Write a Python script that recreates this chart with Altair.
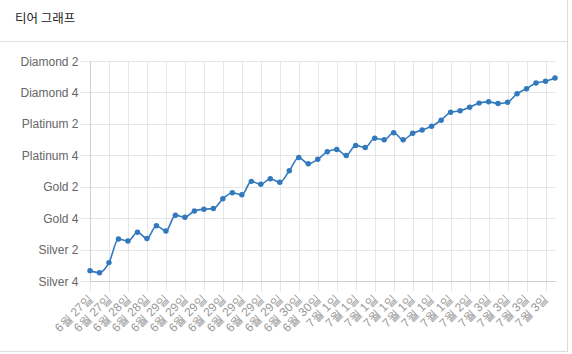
import altair as alt
import pandas as pd

# x categories (one per game snapshot)
dates = [
    "6월 27일", "6월 27일", "6월 27일", "6월 28일", "6월 28일", "6월 28일",
    "6월 28일", "6월 29일", "6월 29일", "6월 29일", "6월 29일", "6월 29일",
    "6월 29일", "6월 29일", "6월 29일", "6월 29일", "6월 29일", "6월 29일",
    "6월 29일", "6월 29일", "6월 29일", "6월 30일", "6월 30일", "6월 30일",
    "6월 30일", "7월 1일", "7월 1일", "7월 1일", "7월 1일", "7월 1일",
    "7월 1일", "7월 1일", "7월 1일", "7월 1일", "7월 1일", "7월 1일",
    "7월 1일", "7월 1일", "7월 1일", "7월 2일", "7월 2일", "7월 3일",
    "7월 3일", "7월 3일", "7월 3일", "7월 3일", "7월 3일", "7월 3일",
    "7월 3일", "7월 3일",
]

# tier score (0 = Silver 4, 2 = Silver 2, 4 = Gold 4, ... 14 = Diamond 2)
tier_values = [
    0.66, 0.53, 1.17, 2.67, 2.54, 3.10, 2.71, 3.52, 3.18, 4.19,
    4.06, 4.46, 4.57, 4.61, 5.23, 5.62, 5.49, 6.34, 6.15, 6.51,
    6.28, 7.01, 7.86, 7.46, 7.75, 8.22, 8.37, 7.99, 8.63, 8.50,
    9.08, 8.99, 9.43, 8.99, 9.40, 9.61, 9.85, 10.23, 10.74, 10.83,
    11.05, 11.32, 11.40, 11.30, 11.38, 11.92, 12.24, 12.60, 12.71, 12.92,
]

tier_ticks = [0, 2, 4, 6, 8, 10, 12, 14]
tier_names = ["Silver 4", "Silver 2", "Gold 4", "Gold 2",
              "Platinum 4", "Platinum 2", "Diamond 4", "Diamond 2"]

title_text = "티어 그래프"

df = pd.DataFrame({"idx": list(range(len(dates))), "date": dates, "tier": tier_values})

date_arr = "[" + ",".join("'" + d + "'" for d in dates) + "]"
tier_arr = "[" + ",".join("'" + t + "'" for t in tier_names) + "]"

W, H = 465, 220
PL, PT = 90, 61
LINE = "#3279be"
GRID = "#e6e6e6"
AXIS = "#cfcfcf"
FONT = "Liberation Sans"

x_enc = alt.X(
    "idx:Q",
    scale=alt.Scale(domain=[0, len(dates) - 1], nice=False, zero=False),
    axis=alt.Axis(
        values=list(range(0, len(dates), 2)),
        labelExpr=date_arr + "[datum.value]",
        labelAngle=-45, labelAlign="right", labelBaseline="middle",
        labelOverlap=False, labelBound=False, labelFlush=False,
        labelColor="#999999", labelFontSize=12, labelFont=FONT, labelPadding=5,
        title=None, grid=True, gridColor=GRID, tickColor=GRID, tickSize=10,
        domainColor=AXIS,
    ),
)
y_enc = alt.Y(
    "tier:Q",
    scale=alt.Scale(domain=[0, 14], nice=False, zero=False),
    axis=alt.Axis(
        values=tier_ticks,
        labelExpr=tier_arr + "[datum.value / 2]",
        labelColor="#666666", labelFontSize=12, labelFont=FONT, labelPadding=2,
        title=None, grid=True, gridColor=GRID, tickColor=GRID, tickSize=10,
        domainColor=AXIS,
    ),
)

base = alt.Chart(df)
line = base.mark_line(interpolate="monotone", color=LINE, strokeWidth=1.6).encode(x=x_enc, y=y_enc)
pts = base.mark_circle(size=30, color=LINE, opacity=1).encode(x=x_enc, y=y_enc)

one = pd.DataFrame({"t": [title_text]})
title = alt.Chart(one).mark_text(
    align="left", baseline="middle", fontSize=12.5, font="Noto Sans CJK KR", color="#222222"
).encode(x=alt.value(15 - PL), y=alt.value(19 - PT), text="t:N")

sep = alt.Chart(one).mark_rule(color="#dddddd", strokeWidth=1).encode(
    x=alt.value(0 - PL), x2=alt.value(567 - PL), y=alt.value(41.5 - PT))
right_border = alt.Chart(one).mark_rule(color="#dddddd", strokeWidth=1).encode(
    x=alt.value(567.5 - PL), y=alt.value(0 - PT), y2=alt.value(352 - PT))
bottom_border = alt.Chart(one).mark_rule(color="#dddddd", strokeWidth=1).encode(
    x=alt.value(0 - PL), x2=alt.value(567.5 - PL), y=alt.value(351.5 - PT))

chart = alt.layer(line, pts, title, sep, right_border, bottom_border).properties(
    width=W, height=H,
    autosize=alt.AutoSizeParams(type="none"),
    padding={"left": PL, "top": PT, "right": 572 - PL - W, "bottom": 354 - PT - H},
    background="white",
).configure_view(stroke=None)

chart.save("out.html", embed_options={"renderer": "svg", "actions": False})
